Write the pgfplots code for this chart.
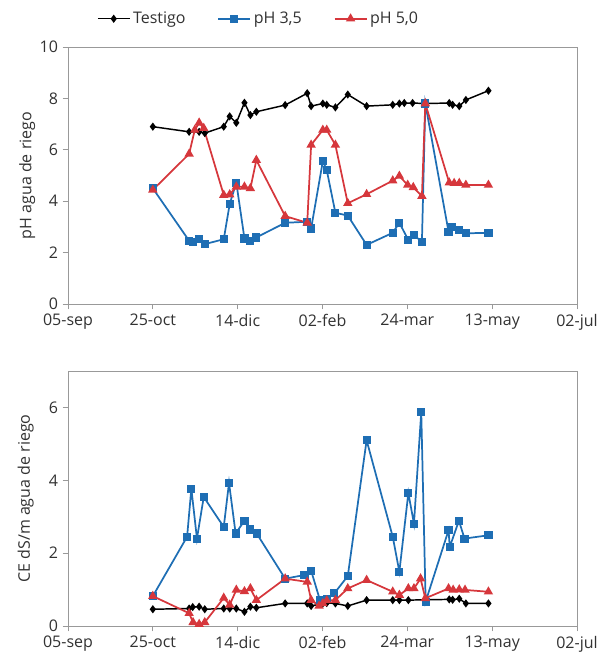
\documentclass[border=0pt]{standalone}
\usepackage{fontspec}
\setmainfont{Open Sans}
\usepackage{pgfplots}
\pgfplotsset{compat=1.18}
\usetikzlibrary{calc}
\definecolor{cblue}{RGB}{30,110,180}
\definecolor{cred}{RGB}{214,55,60}
\definecolor{txt}{RGB}{50,50,50}

% top panel: pH
\pgfplotstableread{
d v
50 6.9
71.4 6.7
77.3 6.7
80.6 6.65
91.8 6.9
95.3 7.3
99.2 7.05
104 7.83
107.5 7.35
111 7.48
128 7.74
141 8.2
143.3 7.7
150.2 7.8
152.5 7.75
157.6 7.65
164.9 8.15
176 7.7
191.4 7.75
195.3 7.8
198.2 7.82
203.1 7.82
210.6 7.8
224.7 7.82
226.7 7.75
230.6 7.7
234.5 7.94
247.8 8.3
}\phT
\pgfplotstableread{
d v
50 4.5
71.4 2.46
73.7 2.4
77.3 2.52
80.6 2.33
91.8 2.52
95.3 3.89
99.2 4.72
104 2.55
107.5 2.46
111 2.59
128 3.16
141 3.2
143.3 2.94
150.2 5.56
152.5 5.21
157.6 3.55
164.9 3.44
176 2.3
191.4 2.77
195.3 3.16
200.6 2.49
203.9 2.68
208.6 2.42
210.6 7.8
224.3 2.81
226.3 3.01
230.6 2.88
234.5 2.75
247.8 2.77
}\phA
\pgfplotstableread{
d v
50 4.44
71.4 5.84
74.7 6.77
77.3 7.05
80 6.84
91.8 4.24
95.3 4.26
99.2 4.56
104 4.56
107.5 4.5
111 5.6
128 3.42
141 3.16
143.3 6.19
150.2 6.77
152.5 6.77
157.6 6.19
164.9 3.92
176 4.27
191.4 4.8
195.3 4.98
200.2 4.63
203.5 4.54
208.6 4.2
210.6 7.8
224.7 4.72
227.6 4.7
230.6 4.7
234.5 4.63
247.8 4.63
}\phB

% bottom panel: CE
\pgfplotstableread{
d v
50 0.46
71.4 0.48
73.5 0.52
77.3 0.53
80.6 0.46
91.8 0.48
95.3 0.48
99.2 0.48
104 0.39
107.5 0.53
111 0.5
128 0.62
141 0.62
143.3 0.55
150.2 0.62
152.5 0.63
157.6 0.62
164.9 0.55
176 0.71
191.4 0.71
195.3 0.71
200.6 0.71
210.6 0.72
224.7 0.73
226.7 0.72
230.6 0.75
234.5 0.62
247.8 0.62
}\ceT
\pgfplotstableread{
d v
50 0.82
70.2 2.45
72.7 3.77
76 2.4
80 3.54
91.8 2.72
94.9 3.93
98.8 2.54
104 2.89
107.5 2.65
111.2 2.54
128 1.3
139.4 1.4
143.3 1.52
148.5 0.71
152.5 0.75
157 0.9
164.9 1.37
176 5.1
191.4 2.45
195.3 1.49
200.6 3.65
203.9 2.81
208.2 5.87
210.8 0.67
224.3 2.63
225 2.17
230.4 2.89
233.7 2.4
247.8 2.49
}\ceA
\pgfplotstableread{
d v
50 0.82
71.4 0.35
73.7 0.1
77.3 0.05
80.6 0.1
91.8 0.77
95.3 0.58
99.2 0.99
104 0.95
107.5 1.03
111 0.71
128 1.3
141 1.21
143.3 0.71
148 0.55
150.2 0.62
152.5 0.7
157.6 0.71
164.9 1.03
176 1.26
191.4 0.94
195.3 0.85
200.6 1.03
203.9 1.03
207.8 1.3
210.6 0.76
224.3 1.03
227 0.99
230.6 1.0
234 0.99
247.8 0.94
}\ceB

\pgfplotsset{
  panel/.style={
    scale only axis, width=381.75pt,
    xmin=0, xmax=300, xtick={0,50,...,300},
    xticklabels={05-sep,25-oct,14-dic,02-feb,24-mar,13-may,02-jul},
    tick align=outside, major tick length=4pt,
    xtick pos=bottom, ytick pos=left,
    axis line style={gray!80, line width=0.7pt},
    every tick/.style={gray!80, line width=0.7pt},
    tick label style={font=\fontsize{12}{14}\selectfont, text=txt},
    label style={font=\fontsize{12}{14}\selectfont, text=txt},
    /pgf/number format/assume math mode=true,
    clip=false,
  },
  sT/.style={black, line width=1.1pt, mark=diamond*, mark size=2.2pt},
  sA/.style={cblue, line width=1.3pt, mark=square*, mark size=2.4pt},
  sB/.style={cred, line width=1.3pt, mark=triangle*, mark size=2.8pt},
}

\begin{document}
\begin{tikzpicture}
\begin{axis}[panel, name=top, height=192.75pt,
  ymin=0, ymax=10, ytick={0,2,...,10},
  ylabel={pH agua de riego},
  ylabel style={at={(axis description cs:-0.08,0.5)}, anchor=center},
  legend columns=3,
  legend style={at={(axis description cs:0.375,1.11)}, anchor=center, draw=none,
    font=\fontsize{12}{14}\selectfont, text=txt,
    /tikz/every even column/.append style={column sep=22pt}},
  legend image code/.code={\draw[mark repeat=2, mark phase=2] plot coordinates {(0cm,0cm) (0.42cm,0cm) (0.84cm,0cm)};},
]
\addplot[sT] table[x=d, y=v] {\phT};
\addplot[sA] table[x=d, y=v] {\phA};
\addplot[sB] table[x=d, y=v] {\phB};
\legend{Testigo, {pH 3,5}, {pH 5,0}}
\end{axis}

\begin{axis}[panel, name=bot, height=191.25pt,
  at={($(top.south west)+(0,-50.25pt)$)}, anchor=north west,
  ymin=0, ymax=7, ytick={0,2,4,6},
  ylabel={CE dS/m agua de riego},
  ylabel style={at={(axis description cs:-0.083,0.5)}, anchor=center},
]
\addplot[sT] table[x=d, y=v] {\ceT};
\addplot[sA] table[x=d, y=v] {\ceA};
\addplot[sB] table[x=d, y=v] {\ceB};
\end{axis}

\pgfresetboundingbox
\path (top.south west) ++(-51pt,-267pt) rectangle ++(455.25pt,495pt);
\end{tikzpicture}
\end{document}
